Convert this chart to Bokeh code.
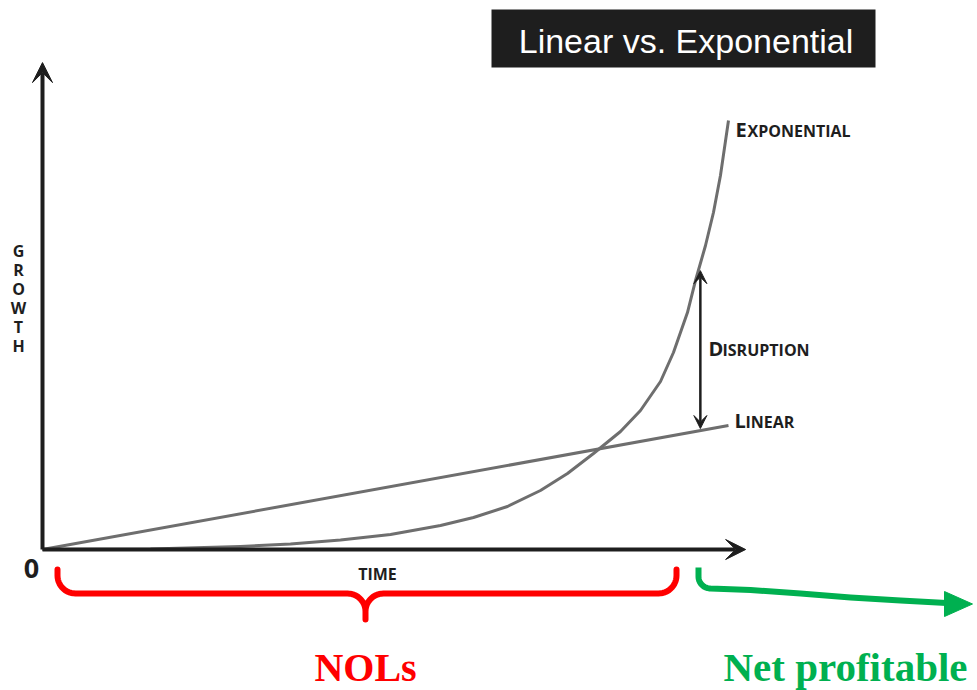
import numpy as np
from bokeh.plotting import figure
from bokeh.models import Range1d, Arrow, VeeHead
from bokeh.core.properties import value
from bokeh.embed import file_html
from bokeh.resources import INLINE

# ---- data ----
time_exp = [0, 1.574, 2.886, 3.615, 4.344, 5.073, 5.802, 6.283, 6.778, 7.259, 7.653,
            8.032, 8.426, 8.717, 9.009, 9.198, 9.402, 9.519, 9.665, 9.781, 9.883, 10.0]
growth_exp = [0, 0.12, 0.70, 1.28, 2.21, 3.50, 5.59, 7.46, 10.02, 13.75, 17.72,
              22.38, 27.51, 32.40, 39.16, 45.92, 55.24, 62.70, 70.86, 78.55, 87.18, 100]
time_lin = [0, 10]
growth_lin = [0, 28.9]
axis_time_max = 10.25
axis_growth_max = 113.5
disruption_time = 9.59
disruption_span = [28.2, 65.0]

title_text = "Linear vs. Exponential"
growth_letters = list("GROWTH")

W, H = 977, 690
p = figure(width=W, height=H, output_backend="svg", toolbar_location=None,
           x_range=Range1d(-0.6122, 13.630), y_range=Range1d(-32.867, 127.972),
           x_axis_type=None, y_axis_type=None, min_border=0)
p.grid.visible = False
p.outline_line_color = None
p.background_fill_color = "white"
p.border_fill_color = "white"
p.extra_x_ranges = {"px": Range1d(0, W)}
p.extra_y_ranges = {"py": Range1d(H, 0)}
PX = dict(x_range_name="px", y_range_name="py")

AX = "#1e1e1e"
CURVE = "#6e6e6e"
FONT = value("Open Sans")

# curves
p.line(time_lin, growth_lin, line_color=CURVE, line_width=3)
p.line(time_exp, growth_exp, line_color=CURVE, line_width=3, line_join="round")

# axes with arrows
p.add_layout(Arrow(x_start=0, y_start=0, x_end=0, y_end=axis_growth_max,
                   line_color=AX, line_width=4,
                   end=VeeHead(size=20, fill_color=AX, line_color=AX)))
p.add_layout(Arrow(x_start=0, y_start=0, x_end=axis_time_max, y_end=0,
                   line_color=AX, line_width=4,
                   end=VeeHead(size=20, fill_color=AX, line_color=AX)))
# disruption arrow
p.add_layout(Arrow(x_start=disruption_time, y_start=disruption_span[0],
                   x_end=disruption_time, y_end=disruption_span[1],
                   line_color=AX, line_width=2.5,
                   start=VeeHead(size=13, fill_color=AX, line_color=AX),
                   end=VeeHead(size=13, fill_color=AX, line_color=AX)))

def label(x, y, txt, size, color=AX, font=FONT, align="center", bold=True):
    p.text(x=[x], y=[y], text=[txt], text_font=font,
           text_font_style="bold" if bold else "normal",
           text_font_size=size, text_color=color, text_align=align,
           text_baseline="middle", **PX)

# axis labels
label(31, 567.5, "0", "27px")
label(377, 573, "TIME", "16px")
gy = [250.5 + 19 * i for i in range(len(growth_letters))]
p.text(x=[18] * len(growth_letters), y=gy, text=growth_letters, text_font=FONT,
       text_font_style="bold", text_font_size="16px", text_color=AX,
       text_align="center", text_baseline="middle", **PX)

# small-caps curve labels (y = baseline)
def smallcaps(x, base, word, first_w):
    label(x, base - 0.36 * 20, word[0], "20px", align="left")
    label(x + first_w, base - 0.36 * 16, word[1:], "16px", align="left")

smallcaps(735, 136, "EXPONENTIAL", 12)
smallcaps(708, 355, "DISRUPTION", 14)
smallcaps(734, 427, "LINEAR", 11)

# title box
p.quad(left=[491], right=[875], top=[9], bottom=[67], fill_color="#1e1e1e",
       line_color=None, **PX)
label(685.5, 40.5, title_text, "34px", color="white",
      font=value("Liberation Sans"), bold=False)

# red brace
def arc(cx, cy, r, a0, a1, n=14):
    a = np.radians(np.linspace(a0, a1, n))
    return list(cx + r * np.cos(a)), list(cy + r * np.sin(a))

bx, by = [57], [569]
for seg in [arc(75, 575, 18, 180, 90), arc(347, 611, 18, 270, 360)]:
    bx += seg[0]; by += seg[1]
bx += [365]; by += [619]
for seg in [arc(383, 611, 18, 180, 270), arc(658, 575, 18, 90, 0)]:
    bx += seg[0]; by += seg[1]
bx += [676]; by += [569]
p.line(bx, by, line_color="#FF0000", line_width=6, line_cap="round",
       line_join="round", **PX)

# green arrow
GREEN = "#00B050"
gx, gyy = [698], [567]
ax_, ay_ = arc(710, 576, 12, 180, 90)
gx += ax_; gyy += ay_
gx += [750, 800, 850, 900, 946]
gyy += [589.5, 593, 597, 600, 602.5]
p.line(gx, gyy, line_color=GREEN, line_width=6, line_cap="butt",
       line_join="round", **PX)
p.patch([944, 972, 944], [591, 603.5, 616], fill_color=GREEN, line_color=GREEN, **PX)

# bottom labels
label(365, 666.5, "NOLs", "40px", color="#FF0000", font=value("Liberation Serif"))
label(845, 666, "Net profitable", "41px", color=GREEN, font=value("Liberation Serif"))

open("out.html", "w").write(file_html(p, INLINE))
